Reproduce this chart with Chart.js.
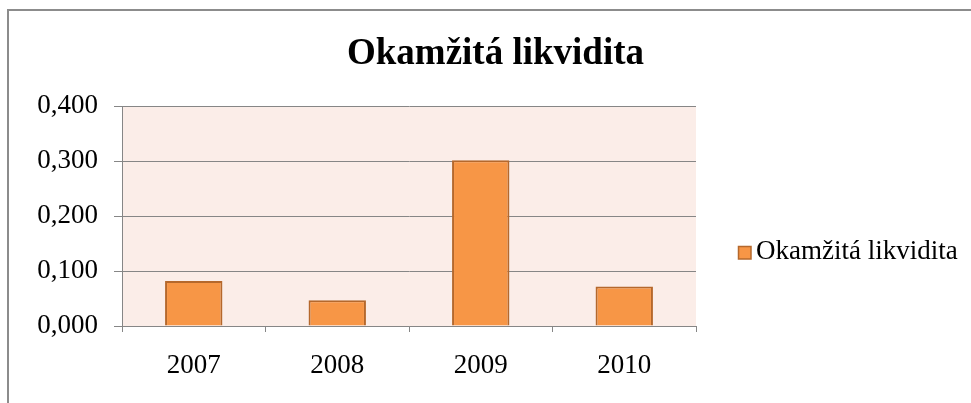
<!DOCTYPE html>
<html>
<head>
<meta charset="utf-8">
<script src="https://cdn.jsdelivr.net/npm/chart.js@4"></script>
<style>
  html, body { margin: 0; padding: 0; background: #fff; }
  #wrap { width: 971px; height: 403px; }
</style>
</head>
<body>
<div id="wrap"><canvas id="barChart" width="971" height="403"></canvas></div>
<script>
const years = ['2007', '2008', '2009', '2010'];
const likvidita = [0.082, 0.047, 0.302, 0.072];
const seriesName = 'Okamžitá likvidita';
const yTicks = [0, 0.1, 0.2, 0.3, 0.4];

const serif = 'Liberation Serif';
const barFill = '#F79646';
const barEdge = '#B5682C';
const gridGrey = '#868686';

// light pink plot area and the grey frame round the whole chart
const backdrop = {
    id: 'backdrop',
    beforeDraw(chart) {
        const { ctx, chartArea: a } = chart;
        ctx.save();
        ctx.fillStyle = '#FBEDE8';
        ctx.fillRect(a.left, a.top, a.right - a.left, a.bottom - a.top);
        ctx.strokeStyle = '#8C8C8C';
        ctx.lineWidth = 2;
        ctx.strokeRect(8, 10, 1000, 500);
        ctx.restore();
    },
    afterLayout(chart) {
        // centre the title over the whole frame, not only over the plot
        chart.titleBlock.left = 20;
        chart.titleBlock.right = 971;
    }
};

// legend sits in the right margin, as in the spreadsheet chart
const sideLegend = {
    id: 'sideLegend',
    afterDraw(chart) {
        const { ctx } = chart;
        const ds = chart.data.datasets[0];
        ctx.save();
        ctx.fillStyle = ds.backgroundColor;
        ctx.strokeStyle = ds.borderColor;
        ctx.lineWidth = 1.5;
        ctx.fillRect(738, 246, 13, 13);
        ctx.strokeRect(738.5, 246.5, 12.5, 12.5);
        ctx.fillStyle = '#000';
        ctx.font = '27px "' + serif + '"';
        ctx.textBaseline = 'middle';
        ctx.fillText(ds.label, 756, 252);
        ctx.restore();
    }
};

let ctx = document.getElementById('barChart').getContext('2d');

let myBarChart = new Chart(ctx, {
    type: 'bar',
    data: {
        labels: years,
        datasets: [{
            label: seriesName,
            data: likvidita,
            backgroundColor: barFill,
            borderColor: barEdge,
            borderWidth: 2,
            barPercentage: 0.4,
            categoryPercentage: 1
        }]
    },
    options: {
        responsive: false,
        animation: false,
        layout: { padding: { left: 0, right: 275, top: 0, bottom: 0 } },
        plugins: {
            legend: { display: false },
            tooltip: { enabled: false },
            title: {
                display: true,
                text: seriesName,
                color: '#000',
                font: { family: serif, size: 37, weight: 'bold', lineHeight: 1.2 },
                padding: { top: 32, bottom: 30 }
            }
        },
        scales: {
            x: {
                grid: { drawOnChartArea: false, drawTicks: true, tickLength: 6, color: gridGrey, offset: true },
                border: { display: true, color: gridGrey, width: 1 },
                ticks: { color: '#000', font: { family: serif, size: 27, lineHeight: 1.2 }, padding: 18 },
                afterFit(scale) { scale.height = 77; }
            },
            y: {
                min: 0,
                max: 0.4,
                afterBuildTicks(scale) { scale.ticks = yTicks.map(v => ({ value: v })); },
                grid: { color: gridGrey, tickLength: 8, lineWidth: 1 },
                border: { display: true, color: gridGrey, width: 1 },
                ticks: {
                    color: '#000',
                    font: { family: serif, size: 27 },
                    padding: 16,
                    callback: v => v.toFixed(3).replace('.', ',')
                },
                afterFit(scale) { scale.width = 122; }
            }
        }
    },
    plugins: [backdrop, sideLegend]
});
</script>
</body>
</html>
